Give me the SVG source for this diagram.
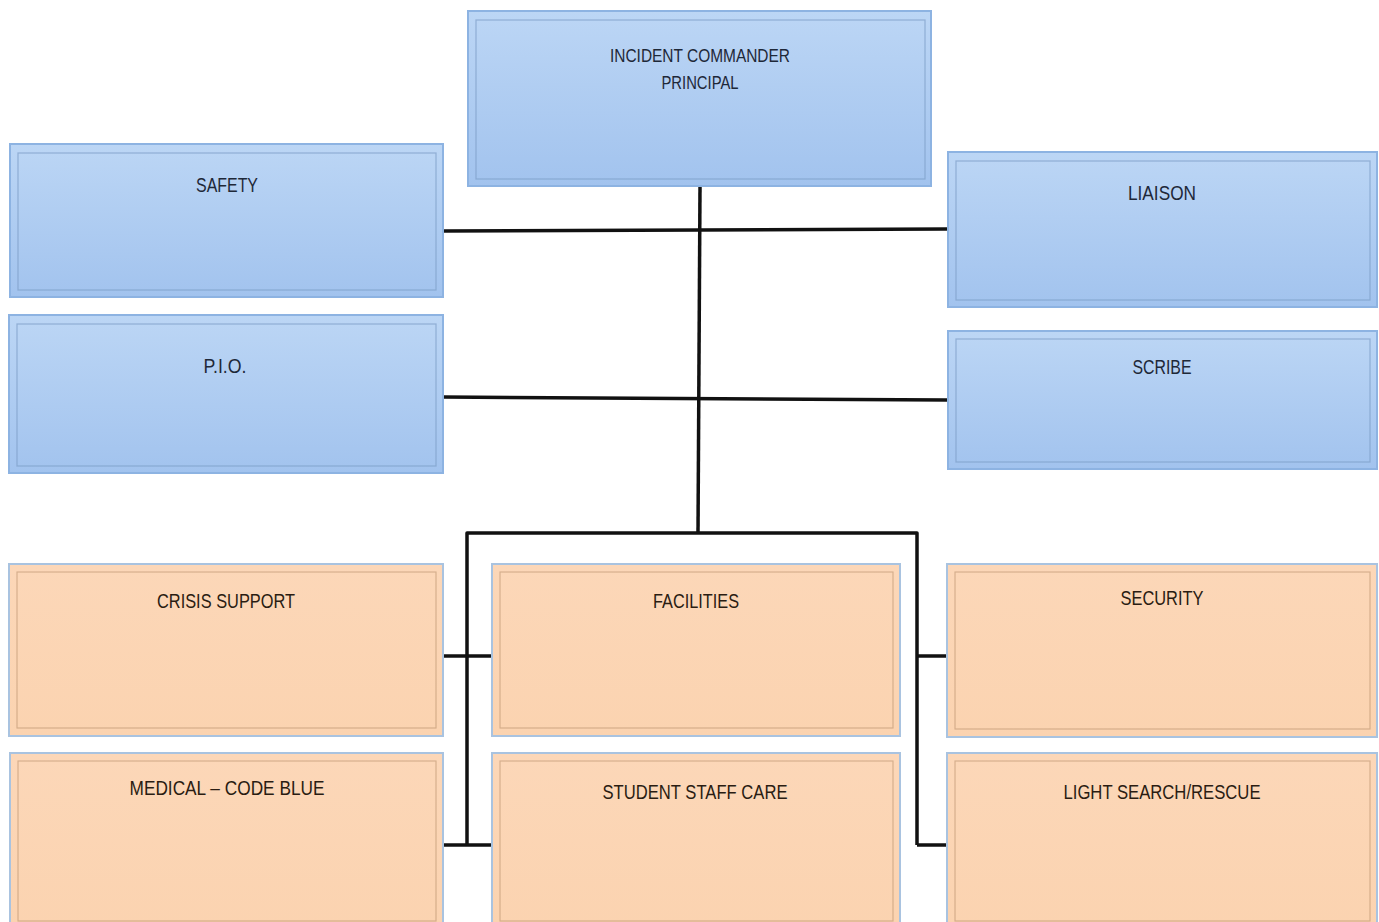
<svg xmlns="http://www.w3.org/2000/svg" width="1379" height="922" viewBox="0 0 1379 922">
<defs>
<linearGradient id="gb" x1="0" y1="0" x2="0" y2="1">
<stop offset="0" stop-color="#bcd6f5"/>
<stop offset="1" stop-color="#a2c3ee"/>
</linearGradient>
<linearGradient id="go" x1="0" y1="0" x2="0" y2="1">
<stop offset="0" stop-color="#fcd7b8"/>
<stop offset="1" stop-color="#fbd3b0"/>
</linearGradient>
</defs>
<style>
.bo{fill:url(#gb);stroke:#8db3e2;stroke-width:2}
.bi{fill:none;stroke:#7d9cc6;stroke-width:1.2;stroke-opacity:0.7}
.oo{fill:url(#go);stroke:#a9c3e0;stroke-width:2}
.oi{fill:none;stroke:#b88f6c;stroke-width:1.1;stroke-opacity:0.6}
.tb{font-family:"Liberation Sans",Arial,sans-serif;font-size:21px;fill:#1e2838;text-anchor:middle}
.to{font-family:"Liberation Sans",Arial,sans-serif;font-size:21px;fill:#2a1c12;text-anchor:middle}
.s{font-size:19px}
.c{fill:none;stroke:#111;stroke-width:3.5;stroke-linejoin:round}
</style>
<rect width="1379" height="922" fill="#fff"/>
<g id="connectors">
<path class="c" d="M700 187 L698 533"/>
<path class="c" d="M443 231 L947 229"/>
<path class="c" d="M443 397 L947 400"/>
<path class="c" d="M467 845 L467 533 L917 533 L917 845"/>
<path class="c" d="M443 656 L491 656"/>
<path class="c" d="M917 656 L946 656"/>
<path class="c" d="M443 845 L491 845"/>
<path class="c" d="M917 845 L946 845"/>
</g>
<g id="incident-commander">
<rect class="bo" x="468" y="11" width="463" height="175"/>
<rect class="bi" x="476" y="20" width="449" height="159"/>
<text class="tb s" x="700" y="62" textLength="180" lengthAdjust="spacingAndGlyphs">INCIDENT COMMANDER</text>
<text class="tb s" x="700" y="89" textLength="77" lengthAdjust="spacingAndGlyphs">PRINCIPAL</text>
</g>
<g id="safety">
<rect class="bo" x="10" y="144" width="433" height="153"/>
<rect class="bi" x="18" y="153" width="418" height="137"/>
<text class="tb" x="227" y="192" textLength="62" lengthAdjust="spacingAndGlyphs">SAFETY</text>
</g>
<g id="liaison">
<rect class="bo" x="948" y="152" width="429" height="155"/>
<rect class="bi" x="956" y="161" width="414" height="139"/>
<text class="tb" x="1162" y="200" textLength="68" lengthAdjust="spacingAndGlyphs">LIAISON</text>
</g>
<g id="pio">
<rect class="bo" x="9" y="315" width="434" height="158"/>
<rect class="bi" x="17" y="324" width="419" height="142"/>
<text class="tb" x="225" y="373" textLength="43" lengthAdjust="spacingAndGlyphs">P.I.O.</text>
</g>
<g id="scribe">
<rect class="bo" x="948" y="331" width="429" height="138"/>
<rect class="bi" x="956" y="339" width="414" height="123"/>
<text class="tb" x="1162" y="374" textLength="59" lengthAdjust="spacingAndGlyphs">SCRIBE</text>
</g>
<g id="crisis-support">
<rect class="oo" x="9" y="564" width="434" height="172"/>
<rect class="oi" x="17" y="572" width="419" height="156"/>
<text class="to" x="226" y="608" textLength="138" lengthAdjust="spacingAndGlyphs">CRISIS SUPPORT</text>
</g>
<g id="facilities">
<rect class="oo" x="492" y="564" width="408" height="172"/>
<rect class="oi" x="500" y="572" width="393" height="156"/>
<text class="to" x="696" y="608" textLength="86" lengthAdjust="spacingAndGlyphs">FACILITIES</text>
</g>
<g id="security">
<rect class="oo" x="947" y="564" width="430" height="173"/>
<rect class="oi" x="955" y="572" width="415" height="157"/>
<text class="to" x="1162" y="605" textLength="83" lengthAdjust="spacingAndGlyphs">SECURITY</text>
</g>
<g id="medical-code-blue">
<rect class="oo" x="10" y="753" width="433" height="175"/>
<rect class="oi" x="18" y="761" width="418" height="160"/>
<text class="to" x="227" y="795" textLength="195" lengthAdjust="spacingAndGlyphs">MEDICAL – CODE BLUE</text>
</g>
<g id="student-staff-care">
<rect class="oo" x="492" y="753" width="408" height="175"/>
<rect class="oi" x="500" y="761" width="393" height="160"/>
<text class="to" x="695" y="799" textLength="185" lengthAdjust="spacingAndGlyphs">STUDENT STAFF CARE</text>
</g>
<g id="light-search-rescue">
<rect class="oo" x="947" y="753" width="430" height="175"/>
<rect class="oi" x="955" y="761" width="415" height="160"/>
<text class="to" x="1162" y="799" textLength="197" lengthAdjust="spacingAndGlyphs">LIGHT SEARCH/RESCUE</text>
</g>
</svg>
